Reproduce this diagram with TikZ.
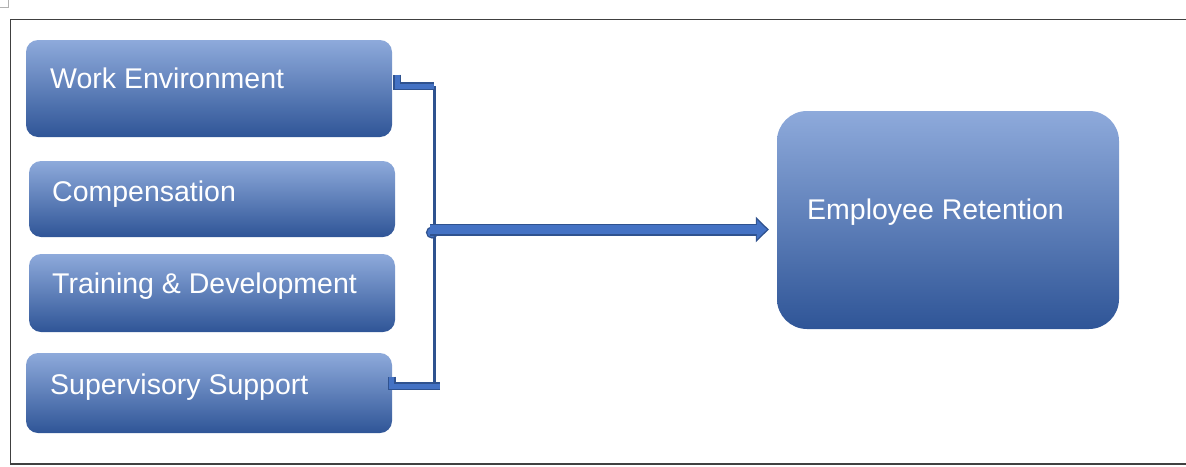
\documentclass[tikz,border=0pt]{standalone}
\usepackage{fontspec}
\setmainfont{Liberation Sans}
\usetikzlibrary{arrows.meta,calc}
\definecolor{boxlight}{HTML}{8EAADB}
\definecolor{boxmid}{HTML}{4472C4}
\definecolor{boxdark}{HTML}{2F5597}
\definecolor{lineblue}{HTML}{2F528F}
\definecolor{framegray}{HTML}{404040}
\begin{document}
\begin{tikzpicture}[x=1pt,y=-1pt,
  factor/.style={rectangle, rounded corners=12pt, top color=boxlight, middle color=boxmid, bottom color=boxdark, inner sep=0pt, draw=none},
  ftext/.style={text=white, font=\fontsize{28.5}{34}\selectfont, anchor=base west, inner sep=0pt},
  bracket/.style={draw=lineblue, line width=1.5pt, double=boxmid, double distance=5pt},
  spine/.style={draw=lineblue, line width=3pt}]
\useasboundingbox (0,0) rectangle (1186,466);
% frame
\draw[framegray, line width=1.5pt] (10.5,19.5) rectangle (1200,464);
\draw[gray!60, line width=0.8pt] (0,7.5) -- (8.5,7.5) -- (8.5,0);
% boxes
\node[factor, minimum width=366pt, minimum height=97pt] (work) at (209,88.5) {};
\node[factor, minimum width=366pt, minimum height=76pt] (comp) at (212,199) {};
\node[factor, minimum width=366pt, minimum height=78pt] (train) at (212,293) {};
\node[factor, minimum width=366pt, minimum height=80pt] (sup) at (209,393) {};
\node[factor, rounded corners=30pt, minimum width=342pt, minimum height=218pt] (ret) at (948,220) {};
% texts
\node[ftext] (workT) at (50,88) {Work Environment};
\node[ftext] (compT) at (52,201) {Compensation};
\node[ftext] (trainT) at (52,293) {Training \& Development};
\node[ftext] (supT) at (50,394) {Supervisory Support};
\node[ftext] (retT) at (807,219) {Employee Retention};
% connector
\coordinate (top) at (434,86);
\coordinate (bot) at (434,386);
\coordinate (j) at (434,229.5);
\draw[spine] (top) -- (bot);
\draw[bracket] ($(work.east)+(5,-14)$) -- ($(work.east)+(5,-2.5)$) -- (top);
\draw[bracket] ($(sup.east)+(-0.5,-16.5)$) -- ($(sup.east)+(-0.5,-7)$) -- ($(bot)+(6,0)$);
\draw[lineblue, fill=boxmid, line width=1.2pt] ($(j)+(-2,3)$) circle (5.5pt);
\draw[lineblue, line width=12pt, shorten >=8pt, -{Triangle[length=13pt,width=25pt]}] ($(j)+(-4,0)$) -- (j -| ret.west);
\draw[boxmid, line width=8.5pt, shorten >=10pt, -{Triangle[length=10pt,width=19pt]}] ($(j)+(-4,0)$) -- (j -| ret.west);
\end{tikzpicture}
\end{document}
